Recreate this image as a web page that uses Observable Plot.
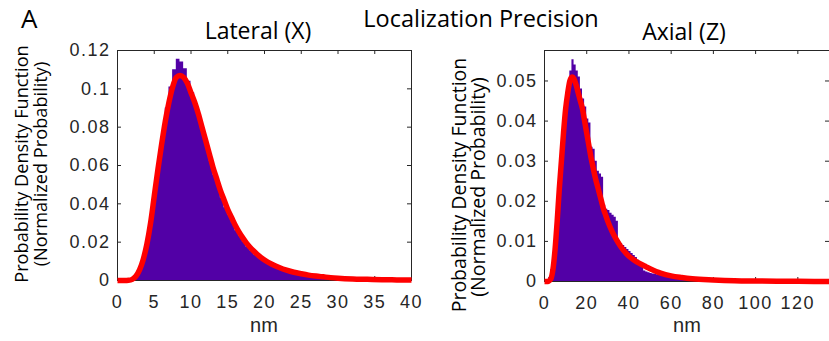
<!DOCTYPE html>
<html><head><meta charset="utf-8">
<script src="https://cdn.jsdelivr.net/npm/d3@7"></script>
<script src="https://cdn.jsdelivr.net/npm/@observablehq/plot@0.6"></script>
<style>
html,body{margin:0;padding:0;background:#fff;}
#chart{position:relative;width:829px;height:341px;overflow:hidden;background:#fff;}
#chart svg{position:absolute;top:0;}
</style></head><body><div id="chart"></div>
<script>
// ---------- Lateral (X) ----------
const latBinWidth = 0.5;
const latHist = [0,0,0,0.0002,0.001,0.0035,0.0075,0.014,0.023,0.035,
  0.049,0.063,0.077,0.090,0.101,0.110,0.1155,0.114,0.1105,0.104,
  0.098,0.0915,0.084,0.077,0.069,0.062,0.055,0.049,0.043,0.038,
  0.034,0.030,0.026,0.023,0.020,0.0175,0.0155,0.0135,0.012,0.0105,
  0.0093,0.0082,0.0072,0.0064,0.0056,0.005,0.0044,0.0039,0.0034,0.003,
  0.0027,0.0024,0.0021,0.0018,0.0016,0.0014,0.0012,0.0011,0.001,0.0009,
  0.0008,0.0007,0.0006,0.0006,0.0005,0.0004,0.0004,0.0003,0.0003,0.0003,
  0.0002,0.0002,0.0002,0.0002,0.0001,0.0001,0.0001,0.0001,0.0001,0.0001];
const latFitX = [0,0.5,1,1.5,2,2.5,3,3.5,4,4.5,5,5.5,6,6.5,7,7.5,8,8.5,9,9.5,10,10.5,11,11.5,12,12.5,13,13.5,14,14.5,15,15.5,16,16.5,17,17.5,18,18.5,19,19.5,20,21,22,23,24,25,26,27,28,29,30,32,34,36,38,40];
const latFitY = [0,0,0,0.0001,0.0006,0.0022,0.0055,0.011,0.019,0.030,0.044,0.058,0.071,0.083,0.093,0.101,0.106,0.107,0.106,0.103,0.098,0.093,0.087,0.080,0.073,0.066,0.059,0.053,0.047,0.042,0.037,0.033,0.029,0.0255,0.0225,0.0198,0.0175,0.0155,0.0137,0.0121,0.0107,0.0085,0.0068,0.0054,0.0043,0.0035,0.0028,0.0023,0.0019,0.0015,0.0012,0.0008,0.0006,0.0004,0.0003,0.0002];
const latXTicks = [0,5,10,15,20,25,30,35,40];
const latYTicks = [0,0.02,0.04,0.06,0.08,0.1,0.12];

// ---------- Axial (Z) ----------
const axBinWidth = 1;
const axHist = [0,0.0002,0.001,0.003,0.006,0.011,0.018,0.025,0.032,0.039,
  0.045,0.049,0.0525,0.0553,0.054,0.0525,0.051,0.048,0.0455,0.0435,
  0.0405,0.0395,0.0335,0.033,0.030,0.0275,0.0268,0.026,0.019,0.018,
  0.0177,0.017,0.0165,0.016,0.015,0.0098,0.0095,0.009,0.0085,0.008,
  0.0075,0.007,0.0065,0.006,0.0053,0.0047,0.004,0.0026,0.0024,0.0022,
  0.002,0.0019,0.0018,0.0017,0.0016,0.0015,0.0014,0.0013,0.0012,0.0011,
  0.001,0.001,0.0009,0.0009,0.0008,0.0008,0.0007,0.0007,0.0006,0.0006,
  0.0005,0.0005,0.0005,0.0004,0.0004,0.0004,0.0003,0.0003,0.0003,0.0002];
const axFitX = [0,1,2,3,4,5,6,7,8,9,10,11,12,13,14,15,16,17,18,19,20,21,22,23,24,25,26,27,28,29,30,32,34,36,38,40,42,45,48,50,55,60,65,70,80,90,100,110,120,135];
const axFitY = [0,0,0.0001,0.0006,0.003,0.008,0.015,0.023,0.030,0.037,0.043,0.047,0.050,0.051,0.0505,0.049,0.047,0.045,0.043,0.040,0.037,0.034,0.031,0.0285,0.026,0.024,0.022,0.020,0.018,0.0165,0.015,0.0125,0.0105,0.0088,0.0074,0.0063,0.0055,0.0045,0.0037,0.0032,0.0021,0.0014,0.001,0.0007,0.0004,0.0002,0.00012,0.00007,0.00004,0.00002];
const axXTicks = [0,20,40,60,80,100,120];
const axYTicks = [0,0.01,0.02,0.03,0.04,0.05];

const purple = "#5200a6";
const red = "#ff0000";
const axisColor = "#262626";
const fmt = d3.format("~g");

function stepData(hist, bw) {
  const pts = hist.map((v, i) => ({x: i * bw, y: v}));
  pts.push({x: hist.length * bw, y: hist[hist.length - 1]});
  return pts;
}

function panel({width, height, mL, mR, mT, mB, xDomain, yDomain, xTicks, yTicks, hist, bw, fitX, fitY}) {
  const W = width - mL - mR, H = height - mT - mB, t = 4;
  const fit = fitX.map((x, i) => ({x, y: fitY[i]}));
  return Plot.plot({
    width, height, marginLeft: mL, marginRight: mR, marginTop: mT, marginBottom: mB,
    x: {domain: xDomain, label: null},
    y: {domain: yDomain, label: null},
    style: {fontFamily: "'Liberation Sans', Arial, sans-serif", fontSize: "18px", color: axisColor, background: "transparent", letterSpacing: "1.5px", overflow: "visible"},
    marks: [
      Plot.frame({stroke: axisColor, strokeWidth: 1}),
      Plot.tickX(xTicks, {x: d => d, insetBottom: H - t, stroke: axisColor}),
      Plot.tickX(xTicks, {x: d => d, insetTop: H - t, stroke: axisColor}),
      Plot.tickY(yTicks, {y: d => d, insetRight: W - t, stroke: axisColor}),
      Plot.tickY(yTicks, {y: d => d, insetLeft: W - t, stroke: axisColor}),
      Plot.axisX(xTicks, {tickSize: 0, tickPadding: 15, tickFormat: fmt, label: null, fontSize: 18, fill: axisColor}),
      Plot.axisY(yTicks, {tickSize: 0, tickPadding: 7, tickFormat: fmt, label: null, fontSize: 18, fill: axisColor}),
      Plot.areaY(stepData(hist, bw), {x: "x", y: "y", curve: "step-after", fill: purple}),
      Plot.line(fit, {x: "x", y: "y", stroke: red, strokeWidth: 5.5, curve: "monotone-x", strokeLinecap: "butt"})
    ]
  });
}

const chart = document.getElementById("chart");
const leftSvg = panel({width: 440, height: 341, mL: 117, mR: 29, mT: 50, mB: 61,
  xDomain: [0, 40], yDomain: [0, 0.12], xTicks: latXTicks, yTicks: latYTicks,
  hist: latHist, bw: latBinWidth, fitX: latFitX, fitY: latFitY});
leftSvg.style.left = "0px";
chart.appendChild(leftSvg);

const rightSvg = panel({width: 409, height: 341, mL: 124, mR: 0, mT: 50, mB: 60,
  xDomain: [0, 135], yDomain: [0, 0.0576], xTicks: axXTicks, yTicks: axYTicks,
  hist: axHist, bw: axBinWidth, fitX: axFitX, fitY: axFitY});
rightSvg.style.left = "420px";
chart.appendChild(rightSvg);

// ---------- Text overlay ----------
const svg = d3.select(chart).append("svg")
  .attr("width", 829).attr("height", 341)
  .style("left", "0px").style("pointer-events", "none");
const sans = "'Open Sans', 'Noto Sans', sans-serif";
function txt(s, x, y, size, opts = {}) {
  const t = svg.append("text").text(s)
    .attr("font-family", opts.family || sans)
    .attr("font-size", size)
    .attr("fill", opts.fill || "#000")
    .attr("text-anchor", opts.anchor || "middle");
  if (opts.rotate) t.attr("transform", `translate(${x},${y}) rotate(-90)`);
  else t.attr("x", x).attr("y", y);
  return t;
}
txt("A", 21, 28, 26, {anchor: "start"});
txt("Localization Precision", 481, 27, 23.5);
txt("Lateral (X)", 258, 39, 23);
txt("Axial (Z)", 684, 40, 23);
txt("nm", 264, 332, 20, {family: "'Liberation Sans', Arial, sans-serif", fill: axisColor});
txt("nm", 687, 332, 20, {family: "'Liberation Sans', Arial, sans-serif", fill: axisColor});
txt("Probability Density Function", 28, 164, 18.2, {rotate: true});
txt("(Normalized Probability)", 46.5, 164, 18.2, {rotate: true});
txt("Probability Density Function", 466, 185, 19.5, {rotate: true});
txt("(Normalized Probability)", 484.5, 187, 19.5, {rotate: true});
</script>
</body></html>
